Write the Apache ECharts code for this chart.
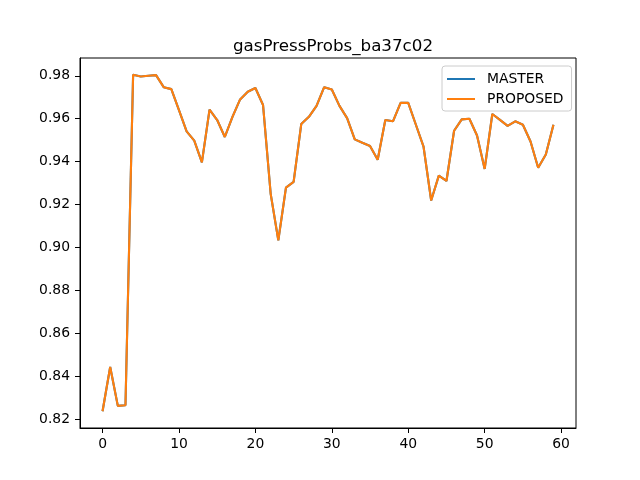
<!DOCTYPE html>
<html>
<head>
<meta charset="utf-8">
<script src="https://cdn.jsdelivr.net/npm/echarts@6/dist/echarts.min.js"></script>
<style>
  html, body { margin: 0; padding: 0; background: #fff; }
  #main { width: 640px; height: 480px; }
</style>
</head>
<body>
<div id="main"></div>
<script>
// 数据
let title = 'gasPressProbs_ba37c02'
let seriesNames = ['MASTER', 'PROPOSED']
let master = [
    0.8237, 0.8443, 0.8262, 0.8265, 0.9805, 0.9797, 0.9800, 0.9803, 0.9747, 0.9738,
    0.9640, 0.9541, 0.9498, 0.9397, 0.9642, 0.9594, 0.9515, 0.9609, 0.9690, 0.9726,
    0.9743, 0.9664, 0.9250, 0.9033, 0.9279, 0.9306, 0.9575, 0.9609, 0.9660, 0.9747,
    0.9736, 0.9660, 0.9603, 0.9504, 0.9488, 0.9473, 0.9409, 0.9594, 0.9588, 0.9674,
    0.9674, 0.9572, 0.9470, 0.9219, 0.9335, 0.9310, 0.9544, 0.9597, 0.9600, 0.9522,
    0.9366, 0.9622, 0.9595, 0.9567, 0.9588, 0.9572, 0.9494, 0.9372, 0.9433, 0.9572
]
let proposed = master.slice()
let xTicks = [0, 10, 20, 30, 40, 50, 60]
let yTicks = [0.82, 0.84, 0.86, 0.88, 0.90, 0.92, 0.94, 0.96, 0.98]

let toPairs = arr => arr.map((v, i) => [i, v])

var myChart = echarts.init(document.getElementById('main'))
let font = 'DejaVu Sans'

var option = {
    animation: false,
    backgroundColor: '#fff',
    title: {
        text: title,
        left: 328,
        textAlign: 'center',
        top: 33,
        textStyle: { fontFamily: font, fontSize: 16.7, fontWeight: 'normal', color: '#000' }
    },
    legend: {
        data: seriesNames,
        orient: 'vertical',
        left: 442,
        top: 66,
        padding: [6, 8, 5, 5],
        itemGap: 6,
        itemWidth: 28,
        itemHeight: 2,
        icon: 'rect',
        borderColor: '#cccccc',
        borderWidth: 1,
        borderRadius: 3,
        backgroundColor: 'rgba(255,255,255,0.8)',
        textStyle: { fontFamily: font, fontSize: 13.9, color: '#000', padding: [0, 0, 0, 7] }
    },
    grid: {
        left: 80, right: 64, top: 58, bottom: 52,
        show: true, borderColor: '#000', borderWidth: 1
    },
    xAxis: {
        type: 'value',
        min: -2.95,
        max: 61.95,
        splitLine: { show: false },
        axisLine: { show: true, onZero: false, lineStyle: { color: '#000' } },
        axisTick: { show: true, length: 5, customValues: xTicks, lineStyle: { color: '#000' } },
        axisLabel: { customValues: xTicks, margin: 9, fontFamily: font, fontSize: 13.9, color: '#000' }
    },
    yAxis: {
        type: 'value',
        min: 0.8159,
        max: 0.9883,
        splitLine: { show: false },
        axisLine: { show: true, onZero: false, lineStyle: { color: '#000' } },
        axisTick: { show: true, length: 5, customValues: yTicks, lineStyle: { color: '#000' } },
        axisLabel: {
            customValues: yTicks, margin: 10, fontFamily: font, fontSize: 13.9, color: '#000',
            formatter: v => v.toFixed(2)
        }
    },
    series: [
        {
            name: seriesNames[0],
            type: 'line',
            data: toPairs(master),
            showSymbol: false,
            symbol: 'none',
            lineStyle: { color: '#1f77b4', width: 2.1 },
            itemStyle: { color: '#1f77b4' }
        },
        {
            name: seriesNames[1],
            type: 'line',
            data: toPairs(proposed),
            showSymbol: false,
            symbol: 'none',
            lineStyle: { color: '#ff7f0e', width: 2.1 },
            itemStyle: { color: '#ff7f0e' }
        }
    ]
}
myChart.setOption(option)
</script>
</body>
</html>
